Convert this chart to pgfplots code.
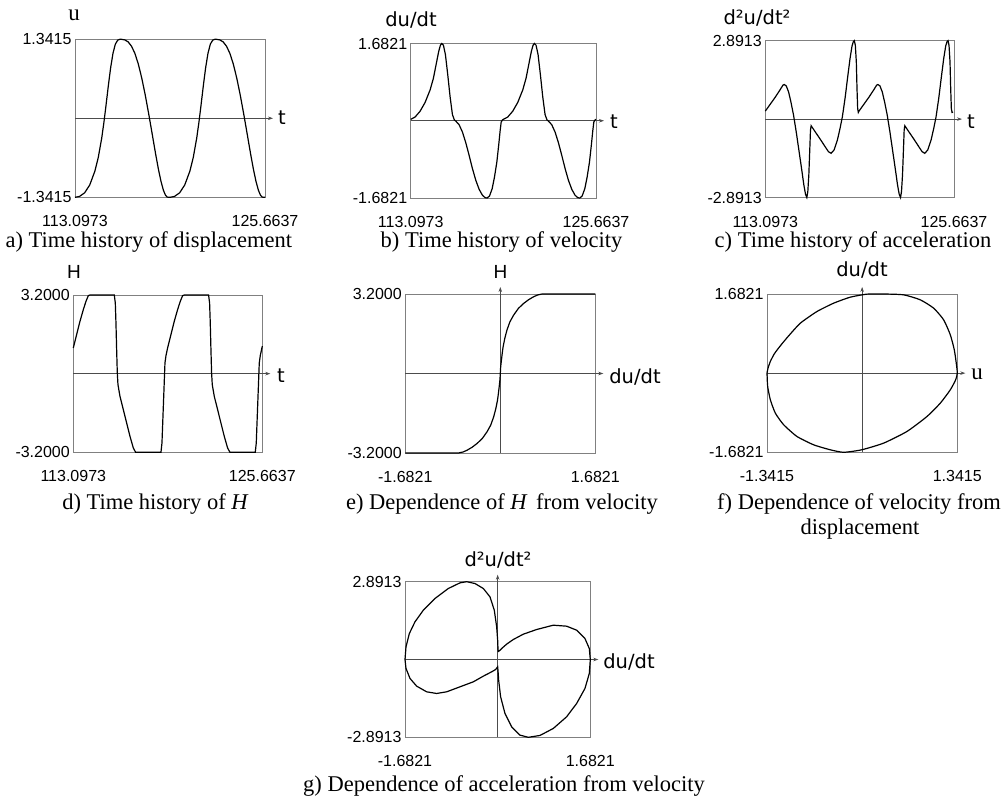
\documentclass[border=0pt]{standalone}
\usepackage{fontspec}
\setmainfont{Liberation Sans}
\newfontfamily\serif{Liberation Serif}
\newfontfamily\hand{DejaVu Sans}
\usepackage{pgfplots}
\pgfplotsset{compat=1.18}
\usetikzlibrary{arrows.meta}
\pgfplotsset{panel/.style={scale only axis, anchor=south west, enlargelimits=false, clip=false,
  axis line style={draw=black!50,line width=0.8pt}, major tick length=0pt, tick style={draw=none},
  tick label style={font=\fontsize{16}{16}\selectfont},
  xticklabel style={anchor=center,yshift=-24pt}},
  curve/.style={black,line width=1.2pt,mark=none}}
\tikzset{zax/.style={draw=black!70,line width=0.7pt,-{Stealth[length=5pt,width=3.5pt]}},
  hl/.style={font=\hand\fontsize{19.5}{20}\selectfont},
  capt/.style={font=\serif\fontsize{22.5}{24}\selectfont,anchor=base}}
\begin{document}
\begin{tikzpicture}
\useasboundingbox (0,0) rectangle (1007pt,798pt);
% ---------------- a) displacement
\begin{axis}[panel, at={(75pt,600.7pt)}, width=190pt, height=158pt,
  xmin=113.0973, xmax=125.6637, ymin=-1.3415, ymax=1.3415,
  xtick={113.0973,125.6637}, xticklabels={113.0973,125.6637},
  ytick={-1.3415,1.3415}, yticklabels={-1.3415,1.3415}]
\draw[zax] (axis cs:113.0973,0) -- ([xshift=8pt]axis cs:125.6637,0);
\addplot[curve] table {
113.097 -1.3415
113.393 -1.327
113.732 -1.266
114.071 -1.133
114.411 -0.898
114.637 -0.664
114.863 -0.338
115.001 -0.086
115.114 0.146
115.202 0.336
115.315 0.580
115.454 0.857
115.611 1.106
115.768 1.261
115.925 1.328
116.063 1.341
116.151 1.3415
116.383 1.332
116.610 1.298
116.836 1.224
117.062 1.100
117.288 0.918
117.514 0.681
117.741 0.398
117.967 0.082
118.149 -0.186
118.281 -0.385
118.438 -0.618
118.620 -0.872
118.784 -1.070
118.941 -1.219
119.073 -1.302
119.167 -1.332
119.236 -1.340
119.324 -1.3415
119.380 -1.3415
119.676 -1.327
120.015 -1.266
120.354 -1.133
120.694 -0.898
120.920 -0.664
121.146 -0.338
121.284 -0.086
121.397 0.146
121.485 0.336
121.598 0.580
121.737 0.857
121.894 1.106
122.051 1.261
122.208 1.328
122.346 1.341
122.434 1.3415
122.666 1.332
122.893 1.298
123.119 1.224
123.345 1.100
123.571 0.918
123.797 0.681
124.024 0.398
124.250 0.082
124.432 -0.186
124.564 -0.385
124.721 -0.618
124.903 -0.872
125.067 -1.070
125.224 -1.219
125.356 -1.302
125.450 -1.332
125.519 -1.340
125.607 -1.3415
125.6637 -1.3415
};
\end{axis}
% ---------------- b) velocity
\begin{axis}[panel, at={(410.7pt,600pt)}, width=185.3pt, height=154.5pt,
  xmin=113.0973, xmax=125.6637, ymin=-1.6821, ymax=1.6821,
  xtick={113.0973,125.6637}, xticklabels={113.0973,125.6637},
  ytick={-1.6821,1.6821}, yticklabels={-1.6821,1.6821}]
\draw[zax] (axis cs:113.0973,0) -- ([xshift=8pt]axis cs:125.6637,0);
\addplot[curve] table {
113.097 0.03
113.392 0.08
113.731 0.206
114.071 0.397
114.411 0.668
114.637 0.925
114.863 1.293
114.999 1.513
115.112 1.645
115.203 1.6821
115.316 1.645
115.452 1.440
115.611 0.999
115.769 0.521
115.928 0.132
116.063 0.015
116.154 -0.007
116.380 -0.087
116.607 -0.247
116.833 -0.479
117.060 -0.754
117.286 -1.044
117.513 -1.298
117.739 -1.494
117.965 -1.624
118.147 -1.675
118.282 -1.6821
118.441 -1.639
118.622 -1.479
118.780 -1.225
118.939 -0.899
119.075 -0.500
119.165 -0.210
119.233 -0.030
119.324 0.020
119.380 0.03
119.675 0.08
120.014 0.206
120.354 0.397
120.694 0.668
120.920 0.925
121.146 1.293
121.282 1.513
121.395 1.645
121.486 1.6821
121.599 1.645
121.735 1.440
121.894 0.999
122.052 0.521
122.211 0.132
122.346 0.015
122.437 -0.007
122.663 -0.087
122.890 -0.247
123.116 -0.479
123.343 -0.754
123.569 -1.044
123.796 -1.298
124.022 -1.494
124.248 -1.624
124.430 -1.675
124.565 -1.6821
124.724 -1.639
124.905 -1.479
125.063 -1.225
125.222 -0.899
125.358 -0.500
125.448 -0.210
125.516 -0.030
125.607 0.020
125.6637 0.030
};
\end{axis}
% ---------------- c) acceleration
\begin{axis}[panel, at={(765.3pt,600.5pt)}, width=188.7pt, height=156.8pt,
  xmin=113.0973, xmax=125.6637, ymin=-2.8913, ymax=2.8913,
  xtick={113.0973,125.6637}, xticklabels={113.0973,125.6637},
  ytick={-2.8913,2.8913}, yticklabels={-2.8913,2.8913}]
\draw[zax] (axis cs:113.0973,0) -- ([xshift=8pt]axis cs:125.6637,0);
\addplot[curve] table {
113.097 0.294
113.429 0.551
113.761 0.809
114.093 1.090
114.270 1.250
114.358 1.274
114.491 1.225
114.646 1.005
114.801 0.637
114.978 0.147
115.155 -0.466
115.332 -1.139
115.509 -1.813
115.664 -2.426
115.774 -2.769
115.863 -2.8913
115.929 -2.671
115.996 -2.058
116.062 -1.078
116.106 -0.404
116.150 -0.245
116.416 -0.466
116.748 -0.735
117.080 -1.017
117.301 -1.201
117.478 -1.262
117.677 -1.139
117.898 -0.772
118.075 -0.343
118.230 0.086
118.407 0.760
118.584 1.556
118.739 2.230
118.872 2.695
118.960 2.854
119.027 2.8913
119.093 2.720
119.159 2.107
119.204 1.127
119.248 0.392
119.292 0.245
119.336 0.294
119.668 0.551
120.000 0.809
120.332 1.090
120.509 1.250
120.597 1.274
120.730 1.225
120.885 1.005
121.040 0.637
121.217 0.147
121.394 -0.466
121.571 -1.139
121.748 -1.813
121.903 -2.426
122.013 -2.769
122.102 -2.8913
122.168 -2.671
122.235 -2.058
122.301 -1.078
122.345 -0.404
122.389 -0.245
122.655 -0.466
122.987 -0.735
123.319 -1.017
123.540 -1.201
123.717 -1.262
123.916 -1.139
124.137 -0.772
124.314 -0.343
124.469 0.086
124.646 0.760
124.823 1.556
124.978 2.230
125.111 2.695
125.199 2.854
125.266 2.8913
125.332 2.720
125.398 2.107
125.443 1.127
125.487 0.392
125.531 0.245
125.600 0.260
};
\end{axis}
% ---------------- d) H(t)
\begin{axis}[panel, at={(73.3pt,345.7pt)}, width=189pt, height=157.3pt,
  xmin=113.0973, xmax=125.6637, ymin=-3.2, ymax=3.2,
  xtick={113.0973,125.6637}, xticklabels={113.0973,125.6637},
  ytick={-3.2,3.2}, yticklabels={-3.2000,3.2000}]
\draw[zax] (axis cs:113.0973,0) -- ([xshift=8pt]axis cs:125.6637,0);
\addplot[curve] table {
113.097 1.044
113.319 1.586
113.541 2.129
113.762 2.603
113.940 2.942
114.095 3.173
114.205 3.2
115.823 3.2
115.890 2.875
115.934 2.061
115.979 0.976
116.023 0.027
116.067 -0.447
116.200 -0.922
116.422 -1.464
116.643 -2.007
116.865 -2.549
117.087 -3.024
117.242 -3.2
118.926 -3.2
118.993 -2.820
119.059 -1.736
119.126 -0.651
119.192 0.434
119.259 0.732
119.367 1.044
119.589 1.586
119.811 2.129
120.032 2.603
120.210 2.942
120.365 3.173
120.475 3.2
122.093 3.2
122.160 2.875
122.204 2.061
122.249 0.976
122.293 0.027
122.337 -0.447
122.470 -0.922
122.692 -1.464
122.913 -2.007
123.135 -2.549
123.357 -3.024
123.512 -3.2
125.196 -3.2
125.263 -2.820
125.329 -1.736
125.396 -0.651
125.462 0.434
125.529 0.732
125.6637 1.12
};
\end{axis}
% ---------------- e) H(v)
\begin{axis}[panel, at={(405.3pt,345pt)}, width=190pt, height=159pt,
  xmin=-1.6821, xmax=1.6821, ymin=-3.2, ymax=3.2,
  xtick={-1.6821,1.6821}, xticklabels={-1.6821,1.6821},
  ytick={-3.2,3.2}, yticklabels={-3.2000,3.2000}]
\draw[zax] (axis cs:-1.6821,0) -- ([xshift=8pt]axis cs:1.6821,0);
\draw[zax] (axis cs:0,-3.2) -- ([yshift=7pt]axis cs:0,3.2);
\addplot[curve] table {
-1.6821 -3.2
-0.74 -3.2
-0.66 -3.16
-0.59 -3.09
-0.50 -2.97
-0.413 -2.82
-0.32 -2.62
-0.236 -2.35
-0.17 -2.08
-0.118 -1.75
-0.08 -1.42
-0.05 -1.08
-0.035 -0.83
-0.02 -0.54
-0.006 -0.25
0 0
0.006 0.25
0.02 0.54
0.035 0.83
0.05 1.08
0.08 1.42
0.118 1.75
0.17 2.08
0.236 2.35
0.32 2.62
0.413 2.82
0.50 2.97
0.59 3.09
0.66 3.16
0.74 3.2
1.6821 3.2
};
\end{axis}
% ---------------- f) v(u)
\begin{axis}[panel, at={(767pt,345.7pt)}, width=190.3pt, height=158.3pt,
  xmin=-1.3415, xmax=1.3415, ymin=-1.6821, ymax=1.6821,
  xtick={-1.3415,1.3415}, xticklabels={-1.3415,1.3415},
  ytick={-1.6821,1.6821}, yticklabels={-1.6821,1.6821}]
\draw[zax] (axis cs:-1.3415,0) -- ([xshift=8pt]axis cs:1.3415,0);
\draw[zax] (axis cs:0,-1.6821) -- ([yshift=7pt]axis cs:0,1.6821);
\addplot[curve,smooth,tension=0.35] table {
-1.3415 0
-1.3274 0.106
-1.2945 0.248
-1.2381 0.411
-1.1536 0.581
-1.0361 0.793
-0.8716 1.062
-0.6367 1.310
-0.4017 1.487
-0.1668 1.615
0.068 1.679
0.303 1.6821
0.585 1.664
0.820 1.558
1.008 1.381
1.149 1.133
1.243 0.814
1.299 0.496
1.327 0.212
1.3415 0
1.318 -0.142
1.243 -0.354
1.102 -0.637
0.914 -0.921
0.632 -1.239
0.303 -1.487
-0.007 -1.629
-0.261 -1.6821
-0.449 -1.629
-0.684 -1.523
-0.919 -1.346
-1.106 -1.098
-1.224 -0.850
-1.294 -0.567
-1.332 -0.283
-1.3415 0
};
\end{axis}
% ---------------- g) a(v)
\begin{axis}[panel, at={(405pt,60.7pt)}, width=185.3pt, height=155.6pt,
  xmin=-1.6821, xmax=1.6821, ymin=-2.8913, ymax=2.8913,
  xtick={-1.6821,1.6821}, xticklabels={-1.6821,1.6821},
  ytick={-2.8913,2.8913}, yticklabels={-2.8913,2.8913}]
\draw[zax] (axis cs:-1.6821,0) -- ([xshift=8pt]axis cs:1.6821,0);
\draw[zax] (axis cs:0,-2.8913) -- ([yshift=7pt]axis cs:0,2.8913);
\addplot[curve] table {
0.012 0.285
0.073 0.409
0.163 0.570
0.284 0.743
0.466 0.941
0.708 1.114
1.010 1.275
1.252 1.238
1.434 1.090
1.585 0.780
1.664 0.409
1.6821 0
1.664 -0.520
1.585 -1.077
1.434 -1.635
1.252 -2.130
1.010 -2.563
0.768 -2.823
0.557 -2.8913
0.405 -2.811
0.254 -2.501
0.133 -2.006
0.054 -1.387
0.018 -0.768
0.006 -0.396
0.000 -0.272
-0.036 -0.371
-0.109 -0.458
-0.260 -0.619
-0.442 -0.830
-0.684 -1.015
-0.926 -1.201
-1.107 -1.263
-1.289 -1.201
-1.470 -0.991
-1.591 -0.706
-1.664 -0.334
-1.6821 0
-1.664 0.471
-1.603 0.966
-1.501 1.399
-1.349 1.833
-1.138 2.266
-0.896 2.638
-0.684 2.848
-0.563 2.8913
-0.411 2.823
-0.260 2.638
-0.139 2.328
-0.061 1.833
-0.018 1.214
0.000 0.718
0.006 0.409
0.012 0.285
};
\end{axis}
% ---------------- axis names
\node[font=\serif\fontsize{23}{23}\selectfont] at (74pt,783pt) {u};
\node[hl] at (282pt,680pt) {t};
\node[hl] at (411pt,778pt) {du/dt};
\node[hl] at (614pt,676pt) {t};
\node[hl] at (757pt,780pt) {d²u/dt²};
\node[hl] at (971pt,676pt) {t};
\node[font=\fontsize{19}{19}\selectfont] at (74pt,526pt) {H};
\node[hl] at (281pt,422pt) {t};
\node[font=\fontsize{19}{19}\selectfont] at (500.5pt,526pt) {H};
\node[hl] at (635pt,421pt) {du/dt};
\node[hl] at (862pt,528pt) {du/dt};
\node[font=\serif\fontsize{23}{23}\selectfont] at (977pt,424pt) {u};
\node[hl] at (498pt,238pt) {d²u/dt²};
\node[hl] at (629pt,136pt) {du/dt};
% ---------------- captions
\node[capt,anchor=base west] at (2pt,550pt) {a) Time history of displacement};
\node[capt] at (501.5pt,550pt) {b) Time history of velocity};
\node[capt] at (853pt,550pt) {c) Time history of acceleration};
\node[capt] at (155pt,288pt) {d) Time history of {\itshape H}};
\node[capt] at (502pt,288pt) {e) Dependence of {\itshape H}\, from velocity};
\node[capt] at (859pt,288pt) {f) Dependence of velocity from};
\node[capt] at (860pt,263pt) {displacement};
\node[capt] at (504pt,6pt) {g) Dependence of acceleration from velocity};
\end{tikzpicture}
\end{document}
